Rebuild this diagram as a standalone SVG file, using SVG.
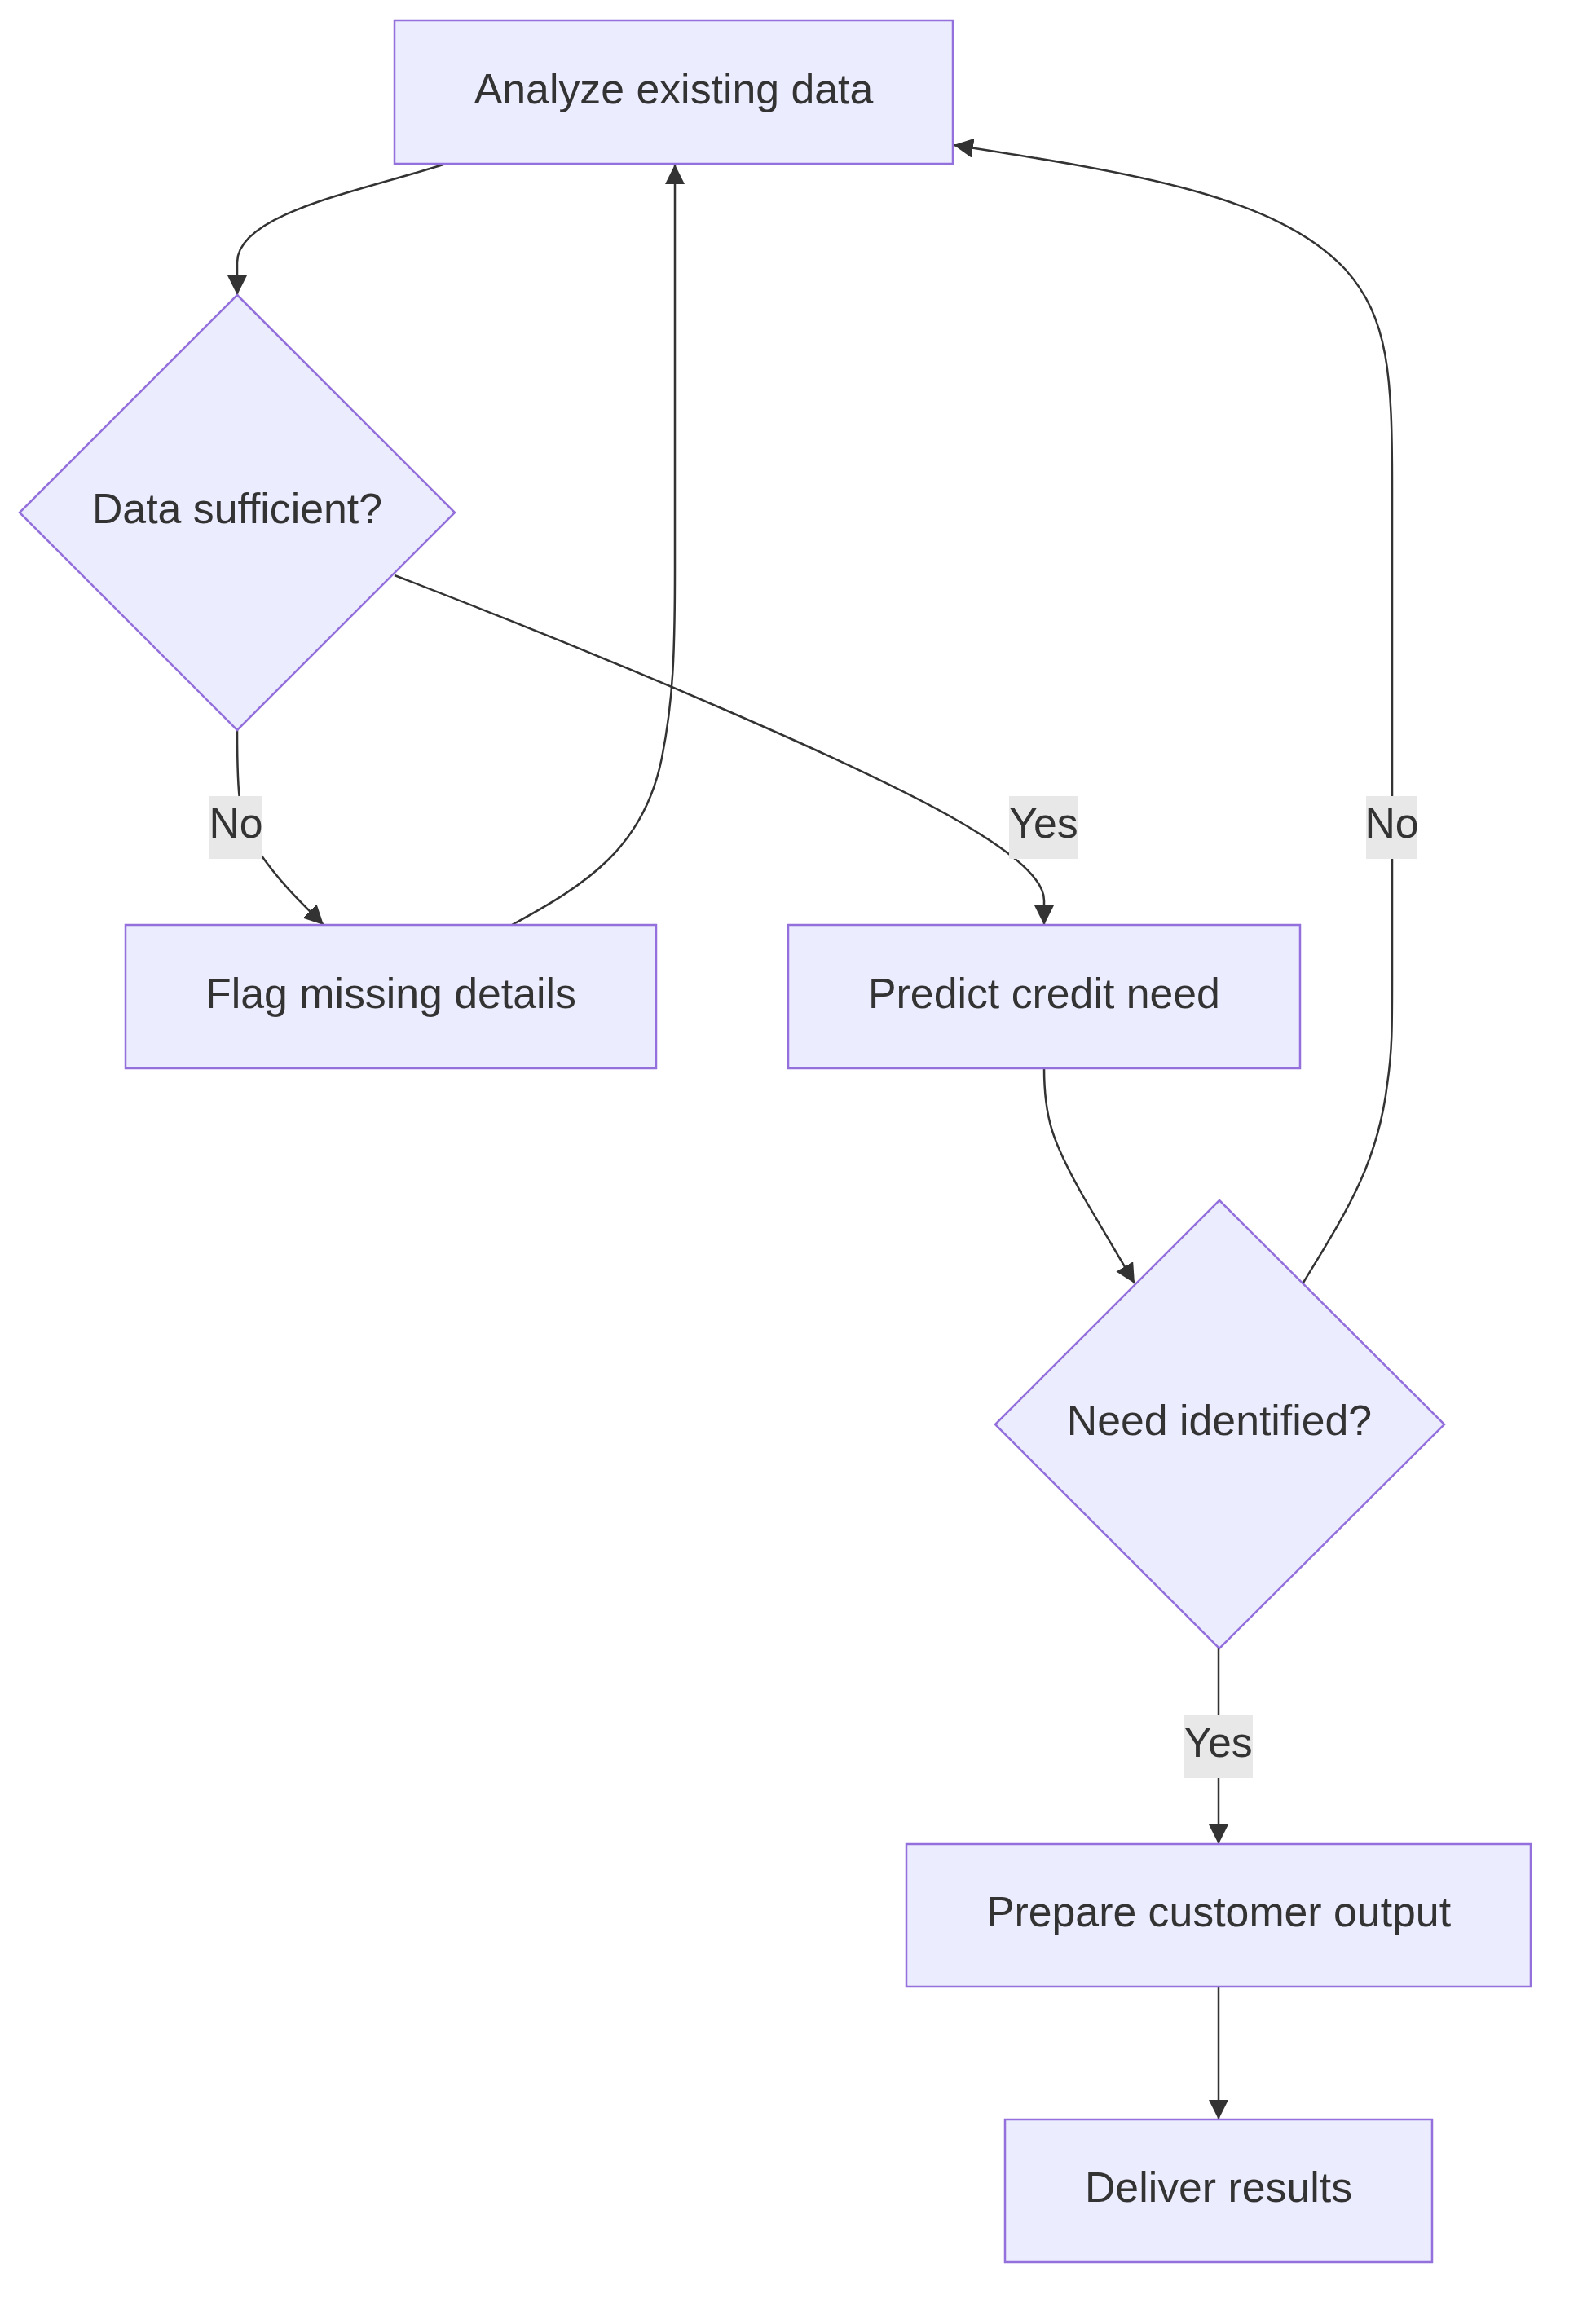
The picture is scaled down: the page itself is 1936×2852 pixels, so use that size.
<svg xmlns="http://www.w3.org/2000/svg" width="1936" height="2852" viewBox="0 0 1936 2852">
<style>
.node{fill:#ECECFF;stroke:#9370DB;stroke-width:2.5}
.lbl{font-family:"Liberation Sans",Arial,sans-serif;font-size:51.8px;fill:#333;text-anchor:middle;dominant-baseline:central}
.edge{fill:none;stroke:#333;stroke-width:2.5}
.ebg{fill:#e8e8e8}
</style>
<defs>
<marker id="arr" viewBox="0 0 10 10" refX="10" refY="5" markerUnits="userSpaceOnUse" markerWidth="24" markerHeight="24" orient="auto">
<path d="M0,0 L10,5 L0,10 z" fill="#333"/>
</marker>
</defs>
<g id="edges">
<path class="edge" d="M547,201 C440,235 291,262 291,322 L291,362" marker-end="url(#arr)"/>
<path class="edge" d="M291,896 C291,975 292,1010 318,1046 C345,1085 370,1108 397,1135" marker-end="url(#arr)"/>
<path class="edge" d="M628,1135 C720,1085 790,1040 812,930 C826,860 828,800 828,700 L828,202" marker-end="url(#arr)"/>
<path class="edge" d="M484,706 C760,812 1060,940 1180,1010 C1260,1057 1281,1085 1281,1105 L1281,1135" marker-end="url(#arr)"/>
<path class="edge" d="M1281,1311 C1281,1370 1290,1400 1330,1470 L1392,1575" marker-end="url(#arr)"/>
<path class="edge" d="M1599,1574 C1650,1490 1690,1430 1702,1330 C1708,1290 1708,1260 1708,1200 L1708,600 C1708,460 1704,390 1650,330 C1565,240 1390,212 1170,178" marker-end="url(#arr)"/>
<path class="edge" d="M1495,2022 L1495,2263" marker-end="url(#arr)"/>
<path class="edge" d="M1495,2438 L1495,2601" marker-end="url(#arr)"/>
<g id="edge-labels">
<rect class="ebg" x="257" y="977" width="65" height="77"/>
<text class="lbl" x="289.5" y="1010">No</text>
<rect class="ebg" x="1238" y="977" width="85" height="77"/>
<text class="lbl" x="1280.5" y="1010">Yes</text>
<rect class="ebg" x="1676" y="977" width="63" height="77"/>
<text class="lbl" x="1707.5" y="1010">No</text>
<rect class="ebg" x="1452" y="2105" width="85" height="77"/>
<text class="lbl" x="1494.5" y="2138">Yes</text>
</g>
</g>
<g id="analyze">
<rect class="node" x="484" y="25" width="685" height="176"/>
<text class="lbl" x="826.5" y="109">Analyze existing data</text>
</g>
<g id="sufficient">
<polygon class="node" points="291,362 558,629 291,896 24,629"/>
<text class="lbl" x="291" y="624">Data sufficient?</text>
</g>
<g id="flag">
<rect class="node" x="154" y="1135" width="651" height="176"/>
<text class="lbl" x="479.5" y="1219">Flag missing details</text>
</g>
<g id="predict">
<rect class="node" x="967" y="1135" width="628" height="176"/>
<text class="lbl" x="1281" y="1219">Predict credit need</text>
</g>
<g id="need">
<polygon class="node" points="1496,1473 1772,1748 1496,2023 1221,1748"/>
<text class="lbl" x="1496" y="1743">Need identified?</text>
</g>
<g id="prepare">
<rect class="node" x="1112" y="2263" width="766" height="175"/>
<text class="lbl" x="1495" y="2346">Prepare customer output</text>
</g>
<g id="deliver">
<rect class="node" x="1233" y="2601" width="524" height="175"/>
<text class="lbl" x="1495" y="2684">Deliver results</text>
</g>
</svg>
